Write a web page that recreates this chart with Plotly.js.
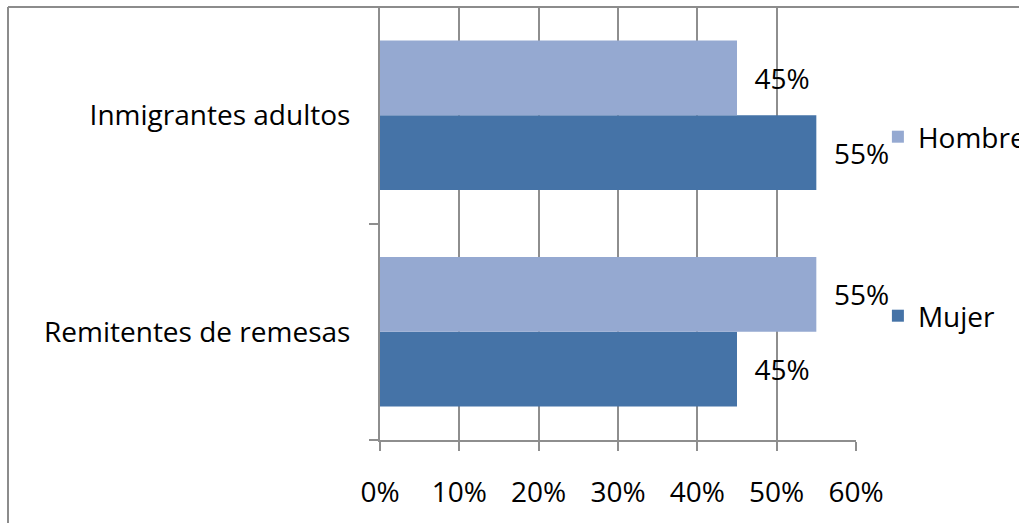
<!DOCTYPE html>
<html><head><meta charset="utf-8">
<script src="https://cdn.plot.ly/plotly-3.0.1.min.js"></script>
<style>body{margin:0;padding:0;background:#fff}#chart{width:1019px;height:523px}</style>
</head><body><div id="chart"></div>
<script>
const categories = ["Remitentes de remesas", "Inmigrantes adultos"];
const mujer = [0.45, 0.55];
const hombre = [0.55, 0.45];
const xTickVals = [0, 0.1, 0.2, 0.3, 0.4, 0.5, 0.6];
const xTickText = ["0%", "10%", "20%", "30%", "40%", "50%", "60%"];

const FONT = "'Open Sans', 'Noto Sans', sans-serif";
const FS = 28;
const PAD = "\u00a0\u00a0";
const gridC = "#8e8e8e";

const traces = [
  {type:"bar", orientation:"h", name:"Mujer", y:categories, x:mujer,
   marker:{color:"#4573A7"}, text:mujer.map(v=>PAD+Math.round(v*100)+"%"),
   textposition:"outside", cliponaxis:false, textfont:{family:FONT,size:FS,color:"#000"},
   legend:"legend2", hoverinfo:"none"},
  {type:"bar", orientation:"h", name:"Hombre", y:categories, x:hombre,
   marker:{color:"#95A9D1"}, text:hombre.map(v=>PAD+Math.round(v*100)+"%"),
   textposition:"outside", cliponaxis:false, textfont:{family:FONT,size:FS,color:"#000"},
   legend:"legend", hoverinfo:"none"}
];

const layout = {
  width:1019, height:523,
  margin:{l:380, r:163, t:7, b:83, pad:0, autoexpand:false},
  paper_bgcolor:"#fff", plot_bgcolor:"#fff",
  font:{family:FONT, size:FS, color:"#000"},
  barmode:"group", bargap:0.31, bargroupgap:0,
  xaxis:{range:[0,0.6], tickvals:xTickVals, ticktext:xTickText, showgrid:true,
    gridcolor:gridC, gridwidth:2, zeroline:false, showline:true, linecolor:gridC, linewidth:2,
    ticks:"outside", ticklen:9, tickcolor:gridC, tickwidth:2, ticklabelstandoff:17, automargin:false,
    tickfont:{family:FONT,size:FS,color:"#000"}, fixedrange:true},
  yaxis:{type:"category", categoryorder:"array", categoryarray:categories,
    showline:true, linecolor:gridC, linewidth:2, showgrid:false, zeroline:false,
    ticks:"outside", tickson:"boundaries", ticklen:9, tickcolor:gridC, tickwidth:2, automargin:false,
    ticklabelstandoff:22, tickfont:{family:FONT,size:FS,color:"#000"}, fixedrange:true},
  showlegend:true,
  legend:{x:1.046, xanchor:"left", y:(440-137)/433, yanchor:"middle", bgcolor:"rgba(0,0,0,0)",
    font:{family:FONT,size:FS,color:"#000"}},
  legend2:{x:1.046, xanchor:"left", y:(440-316)/433, yanchor:"middle", bgcolor:"rgba(0,0,0,0)",
    font:{family:FONT,size:FS,color:"#000"}},
  shapes:[
    {type:"line", xref:"paper", yref:"paper", x0:(8-380)/476, x1:(8-380)/476, y0:(440-530)/433, y1:(440-7)/433,
     line:{color:"#8c8c8c", width:2}},
    {type:"line", xref:"paper", yref:"paper", x0:(8-380)/476, x1:(1030-380)/476, y0:(440-7)/433, y1:(440-7)/433,
     line:{color:"#8c8c8c", width:2}}
  ]
};

Plotly.newPlot("chart", traces, layout, {displayModeBar:false, staticPlot:true});
</script></body></html>
